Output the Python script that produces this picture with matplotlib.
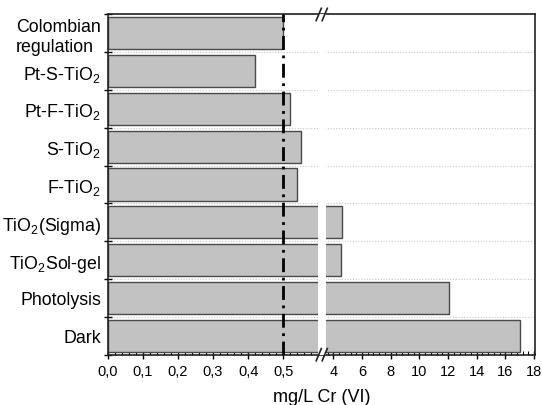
import numpy as np
import matplotlib
matplotlib.use('Agg')
import matplotlib.pyplot as plt
from matplotlib.ticker import FixedLocator, FixedFormatter

plt.rcParams['font.family'] = ['Liberation Sans', 'DejaVu Sans']
plt.rcParams['mathtext.default'] = 'regular'
plt.rcParams['text.color'] = '#222222'

# data (top to bottom)
categories = ['Colombian\nregulation', 'Pt-S-TiO$_2$', 'Pt-F-TiO$_2$', 'S-TiO$_2$',
              'F-TiO$_2$', 'TiO$_2$(Sigma)', 'TiO$_2$Sol-gel', 'Photolysis', 'Dark']
values = [0.50, 0.42, 0.52, 0.55, 0.54, 4.6, 4.5, 12.1, 17.0]
limit = 0.5

major_ticks = [0.0, 0.1, 0.2, 0.3, 0.4, 0.5, 4, 6, 8, 10, 12, 14, 16, 18]
major_labels = ['0,0', '0,1', '0,2', '0,3', '0,4', '0,5',
                '4', '6', '8', '10', '12', '14', '16', '18']

# broken axis: 0..A and B..XMAX, small gap in between
A, B, XMAX = 0.6, 3.5, 18.1
W1, GAP, W2 = 210.5, 8.0, 209.5


def fwd(x):
    x = np.asarray(x, dtype=float)
    return np.where(x <= A, x / A * W1,
                    np.where(x < B, W1 + (x - A) / (B - A) * GAP,
                             W1 + GAP + (x - B) / (XMAX - B) * W2))


def inv(u):
    u = np.asarray(u, dtype=float)
    return np.where(u <= W1, u / W1 * A,
                    np.where(u < W1 + GAP, A + (u - W1) / GAP * (B - A),
                             B + (u - W1 - GAP) / W2 * (XMAX - B)))


fig = plt.figure(figsize=(5.42, 4.06), dpi=100, facecolor='white')
ax = fig.add_axes([0.199, 0.124, 0.789, 0.838])
ax.set_xscale('function', functions=(fwd, inv))

ypos = np.arange(len(categories))[::-1]
ax.barh(ypos, values, height=0.85, color='#c2c2c2', edgecolor='#4a4a4a',
        linewidth=1.0, zorder=2)

# white gap of the axis break
ax.axvspan(A + 0.02, B - 0.02, color='white', zorder=3, lw=0)

ax.axvline(limit, color='black', lw=2, linestyle=(0, (5, 2, 1, 2)), zorder=4)

ax.set_xlim(0, XMAX)
ax.set_ylim(-0.5, len(categories) - 0.5)

# x ticks
ax.xaxis.set_major_locator(FixedLocator(major_ticks))
ax.xaxis.set_major_formatter(FixedFormatter(major_labels))
minor = list(np.arange(0, 0.6001, 0.02)) + list(np.arange(3.6, 18.01, 0.4))
ax.xaxis.set_minor_locator(FixedLocator(minor))
ax.tick_params(axis='x', which='major', direction='inout', length=6, width=1,
               labelsize=10.5, pad=4)
ax.tick_params(axis='x', which='minor', direction='in', length=3, width=0.8)

# y: boundaries as major ticks, category labels on minor ticks
bounds = np.arange(-0.5, len(categories), 1.0)
ax.yaxis.set_major_locator(FixedLocator(bounds))
ax.yaxis.set_major_formatter(FixedFormatter([''] * len(bounds)))
ax.yaxis.set_minor_locator(FixedLocator(ypos))
ax.yaxis.set_minor_formatter(FixedFormatter(categories))
ax.tick_params(axis='y', which='major', direction='inout', length=6, width=1)
ax.tick_params(axis='y', which='minor', length=0, labelsize=12.8, pad=5)
for lbl in ax.get_yticklabels(minor=True):
    lbl.set_multialignment('left')

ax.grid(axis='y', which='major', color='#c8c8c8', linestyle=(0, (1, 1.5)),
        linewidth=0.8, zorder=1)
ax.set_axisbelow(True)

for s in ax.spines.values():
    s.set_linewidth(1.2)
    s.set_color('#222222')

ax.set_xlabel('mg/L Cr (VI)', fontsize=13, labelpad=7)

# break marks on top and bottom spines
xc = (W1 + GAP / 2) / (W1 + GAP + W2)
for yb in (0, 1):
    for dx in (-0.008, 0.006):
        ax.plot([xc + dx - 0.006, xc + dx + 0.006], [yb - 0.018, yb + 0.018],
                transform=ax.transAxes, color='#222222', lw=1.2,
                clip_on=False, zorder=6)

fig.savefig('out.png', dpi=100, facecolor='white')
